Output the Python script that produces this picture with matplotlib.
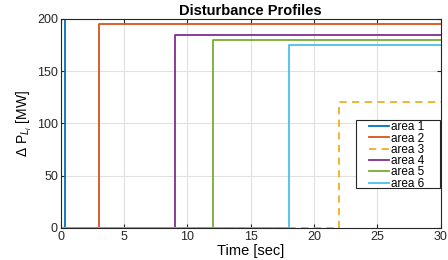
import matplotlib
matplotlib.use("Agg")
import matplotlib.pyplot as plt
from matplotlib.patches import Rectangle

plt.rcParams['font.family'] = ['Liberation Sans', 'DejaVu Sans']
plt.rcParams['mathtext.fontset'] = 'custom'
plt.rcParams['mathtext.rm'] = 'Liberation Sans'
plt.rcParams['mathtext.it'] = 'Liberation Sans:italic'

labels = ['area 1', 'area 2', 'area 3', 'area 4', 'area 5', 'area 6']
step_times = [0.3, 3.0, 22.0, 9.0, 12.0, 18.0]
magnitudes = [200, 195, 120, 185, 180, 175]
colors = ['#0072BD', '#D95319', '#EDB120', '#7E2F8E', '#77AC30', '#4DBEEE']
styles = ['-', '-', '--', '-', '-', '-']
t_end = 30
xticks = [0, 5, 10, 15, 20, 25, 30]
yticks = [0, 50, 100, 150, 200]

fig = plt.figure(figsize=(4.48, 2.6), dpi=100)
ax = fig.add_axes([0.1355, 0.124, 0.848, 0.803])

for lab, ts, m, c, ls in zip(labels, step_times, magnitudes, colors, styles):
    ax.plot([0, ts, ts, t_end], [0, 0, m, m], color=c, ls=ls, lw=1.3, label=lab,
            dashes=(4, 3) if ls == '--' else (None, None))

ax.set_xlim(0, 30)
ax.set_ylim(0, 200)
ax.set_xticks(xticks)
ax.set_yticks(yticks)
ax.grid(True, color='#e0e0e0', lw=0.8)
ax.set_axisbelow(True)
ax.tick_params(direction='in', top=True, right=True, labelsize=9, length=3, colors='#262626', pad=2)
for s in ax.spines.values():
    s.set_color('#262626')
    s.set_linewidth(0.8)

ax.set_title('Disturbance Profiles', fontsize=10.5, fontweight='bold', pad=3)
ax.set_xlabel('Time [sec]', fontsize=10.5, labelpad=1)
ax.set_ylabel(r'$\Delta$ P$_{L_i}$ [MW]', fontsize=10, labelpad=2)

# legend frame (MATLAB-style wide box)
ax.add_patch(Rectangle((0.777, 0.192), 0.221, 0.324, transform=ax.transAxes,
                       facecolor='white', edgecolor='#262626', lw=0.8, zorder=4))
leg = ax.legend(loc='upper left', bbox_to_anchor=(0.811, 0.51), fontsize=8.5, frameon=False,
                borderpad=0, labelspacing=-0.06, handlelength=1.7, handletextpad=0.17,
                borderaxespad=0)
leg.set_zorder(5)

fig.savefig('out.png', dpi=100)
